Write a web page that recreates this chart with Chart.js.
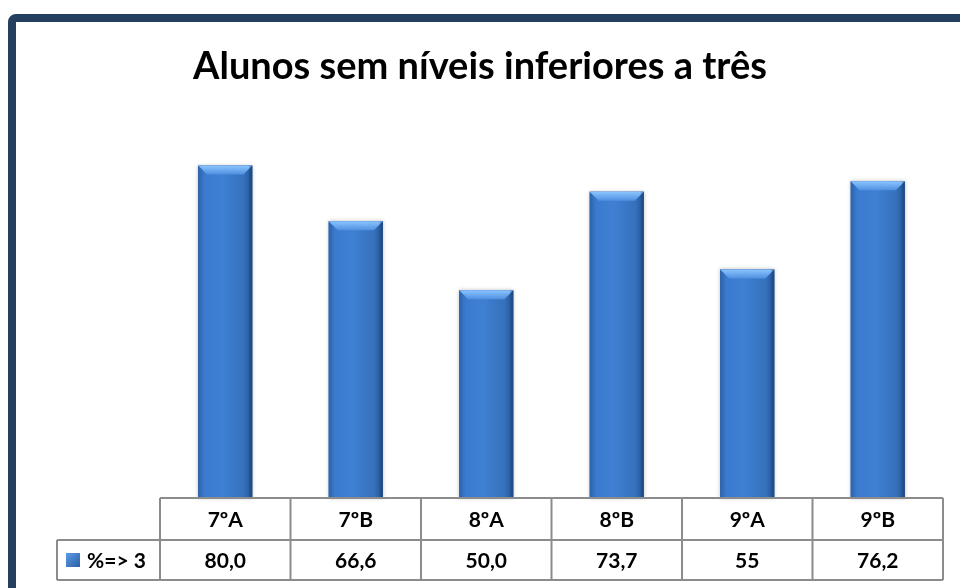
<!DOCTYPE html>
<html>
<head>
<meta charset="utf-8">
<script src="https://cdn.jsdelivr.net/npm/chart.js@4"></script>
<style>
  html, body { margin: 0; padding: 0; background: #fff; }
  #wrap { position: relative; width: 960px; height: 588px; overflow: hidden; }
</style>
</head>
<body>
<div id="wrap"><canvas id="c" width="960" height="588"></canvas></div>
<script>
// dados do gráfico
const categories = ['7ºA', '7ºB', '8ºA', '8ºB', '9ºA', '9ºB'];
const values = [80.0, 66.6, 50.0, 73.7, 55, 76.2];
const valueLabels = ['80,0', '66,6', '50,0', '73,7', '55', '76,2'];
const seriesName = '%=> 3';
const chartTitle = 'Alunos sem níveis inferiores a três';

const FONT = 'Lato, "Open Sans", sans-serif';
const FRAME = '#243f60';
const GRID = '#8c8c8c';

// moldura + título
const framePlugin = {
  id: 'frame',
  beforeDraw(chart) {
    const ctx = chart.ctx;
    ctx.save();
    ctx.fillStyle = '#fff';
    ctx.fillRect(0, 0, chart.width, chart.height);
    ctx.strokeStyle = FRAME;
    ctx.lineWidth = 8;
    ctx.beginPath();
    ctx.roundRect(12, 18, 980, 620, 4);
    ctx.stroke();
    ctx.fillStyle = '#000';
    ctx.font = 'bold 38px ' + FONT;
    ctx.textAlign = 'center';
    ctx.textBaseline = 'alphabetic';
    ctx.fillText(chartTitle, 480, 79);
    ctx.restore();
  }
};

// brilho das barras
const barStylePlugin = {
  id: 'barStyle',
  afterDatasetsDraw(chart) {
    const ctx = chart.ctx;
    const meta = chart.getDatasetMeta(0);
    ctx.save();
    meta.data.forEach(function(bar) {
      const l = bar.x - bar.width / 2, r = bar.x + bar.width / 2;
      const t = bar.y, b = bar.base;
      const g = ctx.createLinearGradient(l, 0, r, 0);
      g.addColorStop(0, '#2c62a8');
      g.addColorStop(0.12, '#3a7bd0');
      g.addColorStop(0.45, '#3f80d2');
      g.addColorStop(0.85, '#3570bb');
      g.addColorStop(1, '#23528f');
      ctx.shadowColor = 'rgba(0,0,0,0.25)';
      ctx.shadowBlur = 4;
      ctx.fillStyle = g;
      ctx.fillRect(l, t, r - l, b - t);
      ctx.shadowBlur = 0;
      ctx.shadowColor = 'transparent';
      // bisel superior
      const bv = 9;
      const gt = ctx.createLinearGradient(0, t, 0, t + bv);
      gt.addColorStop(0, '#8cc4ff');
      gt.addColorStop(1, '#4e90e0');
      ctx.fillStyle = gt;
      ctx.beginPath();
      ctx.moveTo(l, t);
      ctx.lineTo(r, t);
      ctx.lineTo(r - bv, t + bv);
      ctx.lineTo(l + bv, t + bv);
      ctx.closePath();
      ctx.fill();
      // lados escuros
      ctx.fillStyle = 'rgba(20,50,100,0.25)';
      ctx.fillRect(r - 3, t, 3, b - t);
    });
    ctx.restore();
  }
};

// tabela de dados
const tablePlugin = {
  id: 'dataTable',
  afterDraw(chart) {
    const ctx = chart.ctx;
    const xs = chart.scales.x;
    const area = chart.chartArea;
    const top = area.bottom, mid = top + 42, bot = mid + 40;
    const left = area.left, right = area.right, legLeft = 57;
    const colW = (right - left) / categories.length;
    ctx.save();
    ctx.strokeStyle = GRID;
    ctx.lineWidth = 2;
    ctx.beginPath();
    ctx.moveTo(left, top); ctx.lineTo(right, top);
    ctx.moveTo(legLeft, mid); ctx.lineTo(right, mid);
    ctx.moveTo(legLeft, bot); ctx.lineTo(right, bot);
    ctx.moveTo(legLeft, mid); ctx.lineTo(legLeft, bot);
    for (let i = 0; i <= categories.length; i++) {
      const x = left + i * colW;
      ctx.moveTo(x, top); ctx.lineTo(x, bot);
    }
    ctx.stroke();

    ctx.fillStyle = '#000';
    ctx.font = 'bold 21px ' + FONT;
    ctx.textAlign = 'center';
    ctx.textBaseline = 'middle';
    categories.forEach(function(c, i) {
      const x = xs.getPixelForValue(i);
      ctx.fillText(c, x, (top + mid) / 2 + 1);
      ctx.fillText(valueLabels[i], x, (mid + bot) / 2 + 1);
    });

    // chave da legenda
    const kg = ctx.createLinearGradient(66, 553, 80, 567);
    kg.addColorStop(0, '#5d9be6');
    kg.addColorStop(1, '#2a5fa5');
    ctx.fillStyle = kg;
    ctx.fillRect(66, 553, 14, 14);
    ctx.fillStyle = '#000';
    ctx.textAlign = 'left';
    ctx.fillText(seriesName, 87, (mid + bot) / 2 + 1);
    ctx.restore();
  }
};

new Chart(document.getElementById('c'), {
  type: 'bar',
  data: {
    labels: categories,
    datasets: [{
      label: seriesName,
      data: values,
      backgroundColor: '#3a76c4',
      borderWidth: 0,
      barPercentage: 0.415,
      categoryPercentage: 1.0
    }]
  },
  options: {
    responsive: false,
    animation: false,
    layout: { padding: { left: 160, right: 17, top: 124, bottom: 90 } },
    plugins: { legend: { display: false }, tooltip: { enabled: false }, title: { display: false } },
    scales: {
      x: { display: false, offset: true },
      y: { display: false, min: 0, max: 90 }
    }
  },
  plugins: [framePlugin, barStylePlugin, tablePlugin]
});
</script>
</body>
</html>
